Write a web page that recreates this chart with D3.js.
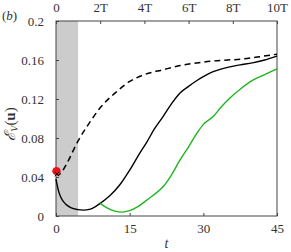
<!DOCTYPE html>
<html>
<head>
<meta charset="utf-8">
<script src="https://cdnjs.cloudflare.com/ajax/libs/d3/7.8.5/d3.min.js"></script>
<style>
  body { margin: 0; background: #fff; }
</style>
</head>
<body>
<div id="chart"></div>
<script>
// values
const T = 4.5;
const yTicks = [0, 0.04, 0.08, 0.12, 0.16, 0.2];
const xTicks = [0, 15, 30, 45];
const topTicks = [0, 2, 4, 6, 8, 10];

const blackT = [0, 0.5, 1, 2, 3, 4.5, 5.5, 7, 9, 11, 13, 15, 17, 18.4, 20, 21.8, 23.5, 25.2, 27, 28.7, 30, 32, 35.4, 37.5, 40, 42.5, 45];
const blackV = [0.038, 0.026, 0.019, 0.012, 0.0085, 0.0065, 0.006, 0.007, 0.013, 0.021, 0.032, 0.047, 0.064, 0.075, 0.089, 0.102, 0.115, 0.126, 0.133, 0.139, 0.143, 0.148, 0.153, 0.155, 0.157, 0.160, 0.164];

const dashT = [0, 0.5, 1, 2, 4.5, 7, 9, 12, 15, 18, 21.8, 25, 28.7, 32, 35, 38, 41, 45];
const dashV = [0.044, 0.042, 0.044, 0.052, 0.077, 0.097, 0.111, 0.126, 0.138, 0.145, 0.150, 0.154, 0.157, 0.159, 0.160, 0.161, 0.163, 0.166];

const greenT = [9, 10.5, 12, 13.5, 15, 16.5, 18.4, 20, 21.8, 23.5, 25.2, 27, 28.7, 30, 32, 33.5, 35.4, 37.5, 40, 42.5, 45];
const greenV = [0.013, 0.008, 0.005, 0.004, 0.0055, 0.009, 0.016, 0.022, 0.030, 0.042, 0.057, 0.071, 0.085, 0.094, 0.102, 0.111, 0.121, 0.130, 0.139, 0.145, 0.151];

const dotT = 0.1, dotV = 0.046;

const FONT = "Times New Roman, Liberation Serif, serif";
const W = 291, H = 252;
const margin = {top: 21, right: 14, bottom: 36, left: 56};
const iw = W - margin.left - margin.right;
const ih = H - margin.top - margin.bottom;

const svg = d3.select("#chart").append("svg")
    .attr("width", W).attr("height", H)
    .attr("font-family", FONT);
const g = svg.append("g").attr("transform", `translate(${margin.left},${margin.top})`);

const x = d3.scaleLinear().domain([0, 45]).range([0, iw]);
const y = d3.scaleLinear().domain([0, 0.2]).range([ih, 0]);

// shaded first period
g.append("rect")
    .attr("x", x(0)).attr("y", 0)
    .attr("width", x(T) - x(0)).attr("height", ih)
    .attr("fill", "#cccccc");

const axisColor = "#444";
const styleAxis = sel => {
  sel.attr("font-family", FONT).attr("font-size", 13);
  sel.select(".domain").remove();
  sel.selectAll(".tick line").attr("stroke", axisColor);
  sel.selectAll(".tick text").attr("fill", "#333");
};

g.append("g").attr("transform", `translate(0,${ih})`)
  .call(d3.axisBottom(x).tickValues(xTicks).tickSizeInner(-3).tickSizeOuter(0).tickPadding(8))
  .call(styleAxis);

g.append("g")
  .call(d3.axisLeft(y).tickValues(yTicks).tickSizeInner(-3).tickSizeOuter(0).tickPadding(12)
        .tickFormat(d => d === 0 ? "0" : String(+d.toFixed(2))))
  .call(styleAxis);

g.append("g")
  .call(d3.axisTop(x).tickValues(topTicks.map(k => k * T)).tickSizeInner(-3).tickSizeOuter(0).tickPadding(9)
        .tickFormat(d => { const k = Math.round(d / T); return k === 0 ? "0" : k + "T"; }))
  .call(styleAxis);

// frame
g.append("rect")
    .attr("width", iw).attr("height", ih)
    .attr("fill", "none").attr("stroke", axisColor).attr("stroke-width", 1);

const line = d3.line().x(d => x(d[0])).y(d => y(d[1])).curve(d3.curveMonotoneX);

g.append("path").datum(d3.zip(dashT, dashV))
  .attr("d", line).attr("fill", "none").attr("stroke", "#000")
  .attr("stroke-width", 1.5).attr("stroke-dasharray", "6,4");

g.append("path").datum(d3.zip(blackT, blackV))
  .attr("d", line).attr("fill", "none").attr("stroke", "#000").attr("stroke-width", 1.4);

g.append("path").datum(d3.zip(greenT, greenV))
  .attr("d", line).attr("fill", "none").attr("stroke", "#1fb51f").attr("stroke-width", 1.4);

g.append("circle")
  .attr("cx", x(dotT)).attr("cy", y(dotV)).attr("r", 4.2)
  .attr("fill", "#e8141a");
g.append("path")
  .attr("d", d3.symbol(d3.symbolTimes, 14)())
  .attr("transform", `translate(${x(dotT) + 0.5},${y(0.043)})`)
  .attr("fill", "none").attr("stroke", "#000").attr("stroke-width", 1);

// labels
svg.append("text").attr("x", 2).attr("y", 20)
  .attr("font-size", 13).attr("fill", "#333")
  .html('(<tspan font-style="italic">b</tspan>)');

svg.append("text")
  .attr("x", margin.left + x(22.5)).attr("y", 248)
  .attr("text-anchor", "middle").attr("font-size", 14).attr("font-style", "italic")
  .attr("fill", "#333").text("t");

svg.append("text")
  .attr("transform", `translate(15,124) rotate(-90)`)
  .attr("text-anchor", "middle").attr("font-size", 15).attr("fill", "#333")
  .html('<tspan font-style="italic">ℰ</tspan><tspan font-size="10" font-style="italic" dy="3">V</tspan><tspan dy="-3">(</tspan><tspan font-weight="bold">u</tspan>)');
</script>
</body>
</html>
